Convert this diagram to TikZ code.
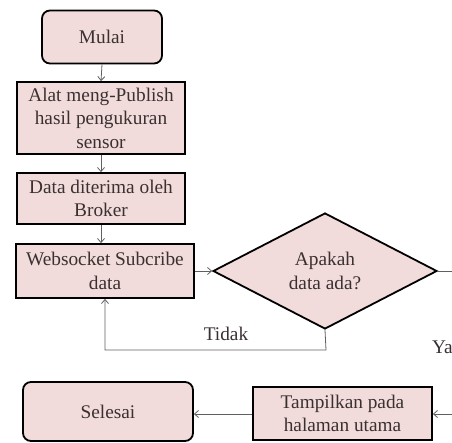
\documentclass[tikz,border=0pt]{standalone}
\usepackage{fontspec}
\setmainfont{Liberation Serif}
\usetikzlibrary{shapes.geometric,arrows.meta}
\definecolor{boxfill}{HTML}{F2DCDB}
\definecolor{txt}{HTML}{3A3030}
\definecolor{conn}{HTML}{606060}
\begin{document}
\begin{tikzpicture}[x=1pt,y=-1pt,
  every node/.style={font=\fontsize{19.3}{23.5}\selectfont, text=txt, align=center, inner sep=0pt},
  procbox/.style={draw=black, line width=1.8pt, fill=boxfill, rectangle},
  termbox/.style={draw=black, line width=1.8pt, fill=boxfill, rectangle, rounded corners=8pt},
  decbox/.style={draw=black, line width=1.8pt, fill=boxfill, diamond, aspect=1.93},
  conn/.style={draw=conn, line width=0.8pt, -{Straight Barb[length=4pt,width=7pt]}},
  plain/.style={draw=conn, line width=0.8pt}]
\useasboundingbox (0,0) rectangle (452,443);
\clip (0,0) rectangle (452,443);
\node[termbox, minimum width=120pt, minimum height=53pt] (mulai) at (102,37) {Mulai};
\node[procbox, minimum width=168pt, minimum height=72pt] (alat) at (101,118) {Alat meng-Publish\\hasil pengukuran\\sensor};
\node[procbox, minimum width=168pt, minimum height=51pt] (data) at (101,198.5) {Data diterima oleh\\Broker};
\node[procbox, minimum width=178pt, minimum height=54pt] (ws) at (105,271) {Websocket Subcribe\\data};
\node[decbox, minimum width=224pt, minimum height=116pt] (dia) at (325,271) {Apakah\\data ada?};
\node[termbox, minimum width=170pt, minimum height=59pt] (selesai) at (108,411.5) {Selesai};
\node[procbox, minimum width=179pt, minimum height=53pt] (tampil) at (342.5,413.5) {Tampilkan pada\\halaman utama};
\node (tidak) at (226,334) {Tidak};
\node[anchor=west] (ya) at (432,347) {Ya};
\coordinate (loopc) at (326,350);
\coordinate (yaout) at (453,271);
\coordinate (yain) at (453,414);
\draw[conn] (mulai.south) -- (alat.north);
\draw[conn] (alat.south) -- (data.north);
\draw[conn] (data.south) -- (data.south |- ws.north);
\draw[conn] (ws.east) -- (dia.west);
\draw[conn] (dia.south) -- (loopc) -| (ws.south);
\draw[plain] (dia.east) -- (yaout);
\draw[conn] (yain) -- (tampil.east |- yain);
\draw[conn] (tampil.west |- yain) -- (selesai.east |- yain);
\end{tikzpicture}
\end{document}
